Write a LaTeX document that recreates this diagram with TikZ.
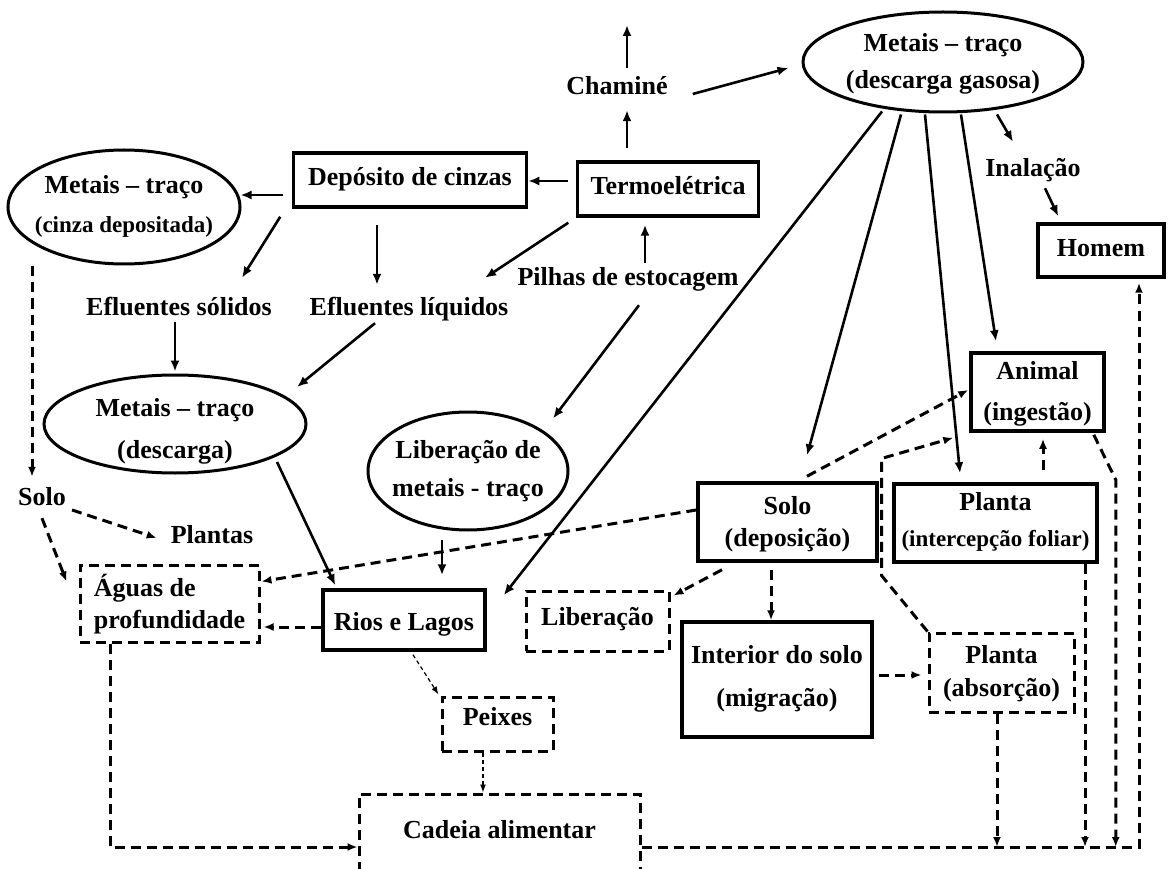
\documentclass[tikz,border=0pt]{standalone}
\usepackage{fontspec}
\setmainfont{Liberation Serif}
\usetikzlibrary{arrows.meta,shapes.geometric}
\newcommand{\cb}[2]{\raisebox{#1}[0pt][0pt]{\makebox[0pt]{#2}}}
\newcommand{\tw}[3]{\fontsize{26}{#1}\selectfont\begin{tabular}{@{}c@{}}#2\\#3\end{tabular}}
\newcommand{\sm}[1]{{\fontsize{23}{26}\selectfont #1}}
\begin{document}
\begin{tikzpicture}[x=1pt,y=-1pt,
  font=\bfseries\fontsize{26}{30}\selectfont,
  box/.style={draw,line width=3.5pt,inner sep=0pt,rectangle},
  dbox/.style={draw,line width=3pt,inner sep=0pt,rectangle,dash pattern=on 10pt off 6pt},
  ell/.style={draw,line width=3pt,ellipse,inner sep=0pt},
  lbl/.style={inner sep=0pt,text height=17pt,text depth=0pt},
  arr/.style={line width=2.6pt,-{Latex[length=11pt,width=9pt]}},
  darr/.style={line width=3pt,dash pattern=on 10pt off 6pt,-{Latex[length=10pt,width=8pt]}},
  tarr/.style={line width=1.2pt,dash pattern=on 4pt off 3pt,-{Latex[length=8pt,width=6pt]}}]
\useasboundingbox (0,0) rectangle (1168,869);
\clip (0,0) rectangle (1168,869);

% ellipses
\node[ell,minimum width=280pt,minimum height=100pt] (gas) at (943,62) {\cb{-6.6pt}{\tw{37pt}{Metais – traço}{(descarga gasosa)}}};
\node[ell,minimum width=232pt,minimum height=114pt] (cinza) at (124,207) {\cb{-4pt}{\tw{39pt}{Metais – traço}{\sm{(cinza depositada)}}}};
\node[ell,minimum width=262pt,minimum height=98pt] (desc) at (175,424) {\cb{-11pt}{\tw{42pt}{Metais – traço}{(descarga)}}};
\node[ell,minimum width=200pt,minimum height=118pt] (lib) at (468,471) {\cb{-5pt}{\tw{38pt}{Liberação de}{metais - traço}}};

% solid boxes
\node[box,minimum width=181pt,minimum height=54pt] (termo) at (668,189) {\cb{-5.5pt}{Termoelétrica}};
\node[box,minimum width=233pt,minimum height=54pt] (dep) at (410,180) {\cb{-5.5pt}{Depósito de cinzas}};
\node[box,minimum width=126pt,minimum height=53pt] (homem) at (1101,250.5) {\cb{-6pt}{Homem}};
\node[box,minimum width=133pt,minimum height=78pt] (animal) at (1037.5,392) {\cb{-6.3pt}{\tw{41pt}{Animal}{(ingestão)}}};
\node[box,minimum width=179pt,minimum height=78pt] (solo2) at (787.5,522) {\cb{-8.6pt}{\tw{32pt}{Solo}{(deposição)}}};
\node[box,minimum width=203pt,minimum height=78pt] (plantai) at (995.5,523) {\cb{-4.3pt}{\tw{36pt}{Planta}{\sm{(intercepção foliar)}}}};
\node[box,minimum width=190pt,minimum height=115pt] (interior) at (777,679.5) {\cb{-2.9pt}{\tw{43pt}{Interior do solo}{(migração)}}};
\node[box,minimum width=162pt,minimum height=60pt] (rios) at (404,620) {\cb{-10.5pt}{Rios e Lagos}};

% dashed boxes
\node[dbox,minimum width=143pt,minimum height=60pt] (liber) at (597.5,621) {\cb{-4.5pt}{Liberação}};
\node[dbox,minimum width=179pt,minimum height=77pt] (aguas) at (169.5,603.5) {\cb{-8.6pt}{\fontsize{26}{32}\selectfont\begin{tabular}{@{}l@{}}Águas de\\profundidade\end{tabular}}};
\node[dbox,minimum width=111pt,minimum height=54pt] (peixes) at (497.5,724) {\cb{-1.5pt}{Peixes}};
\node[dbox,minimum width=145pt,minimum height=79pt] (plantaa) at (1001.5,672.5) {\cb{-6.9pt}{\tw{33pt}{Planta}{(absorção)}}};
\node[dbox,minimum width=281pt,minimum height=106pt] (cadeia) at (499.5,847) {\cb{9pt}{Cadeia alimentar}};

% plain labels
\node[lbl] (chamine) at (617,86) {Chaminé};
\node[lbl] (inal) at (1033,168) {Inalação};
\node[lbl] (efs) at (179,307) {Efluentes sólidos};
\node[lbl] (efl) at (409,307) {Efluentes líquidos};
\node[lbl] (pilhas) at (628,277) {Pilhas de estocagem};
\node[lbl] (solo1) at (42,497) {Solo};
\node[lbl] (plantas) at (212,535) {Plantas};
\coordinate (chtop) at (627,25);

% solid connectors
\draw[arr] ([xshift=-41pt,yshift=12pt]termo.north) -- ([xshift=10pt,yshift=-15.5pt]chamine.south);
\draw[arr] ([xshift=10pt,yshift=9.5pt]chamine.north) -- (chtop);
\draw[arr] ([xshift=25pt,yshift=-8pt]chamine.east) -- ([xshift=-13pt,yshift=-6pt]gas.west);
\draw[arr] ([xshift=-7.5pt,yshift=8pt]termo.west) -- ([yshift=-1pt]dep.east);
\draw[arr] ([xshift=-8.5pt,yshift=-15pt]dep.west) -- ([xshift=-1pt,yshift=12pt]cinza.east);
\draw[arr] ([xshift=-11.5pt,yshift=-8pt]dep.south west) -- ([xshift=63pt,yshift=20.5pt]efs.north);
\draw[arr] ([xshift=-33pt,yshift=-16pt]dep.south) -- ([xshift=-32pt,yshift=13.5pt]efl.north);
\draw[arr] ([xshift=-7.5pt,yshift=-5pt]termo.south west) -- ([xshift=76pt,yshift=20.5pt]efl.north);
\draw[arr] ([xshift=17pt,yshift=5.5pt]pilhas.north) -- ([xshift=-23pt,yshift=-7pt]termo.south);
\draw[arr] ([xshift=11pt,yshift=-19.5pt]pilhas.south) -- ([xshift=85pt,yshift=-8pt]lib.north);
\draw[arr] ([xshift=-61pt,yshift=2pt]gas.south) -- ([xshift=17pt,yshift=-7pt]rios.north east);
\draw[arr] ([xshift=-42pt,yshift=-1pt]gas.south) -- ([xshift=19.5pt,yshift=26pt]solo2.north);
\draw[arr] ([xshift=-18pt,yshift=-1pt]gas.south) -- ([xshift=-35.5pt,yshift=9pt]plantai.north);
\draw[arr] ([xshift=18pt,yshift=-1pt]gas.south) -- ([xshift=-41.5pt,yshift=10pt]animal.north);
\draw[arr] ([xshift=54pt,yshift=-1pt]gas.south) -- ([xshift=-20pt,yshift=17.5pt]inal.north);
\draw[arr] ([xshift=12pt,yshift=-11.5pt]inal.south) -- ([xshift=22pt,yshift=6pt]homem.north west);
\draw[arr] ([xshift=-4pt,yshift=-6.5pt]efs.south) -- ([yshift=2pt]desc.north);
\draw[arr] ([xshift=-34pt,yshift=-7.5pt]efl.south) -- ([xshift=122pt,yshift=37pt]desc.center);
\draw[arr] ([xshift=102pt,yshift=-38pt]desc.center) -- ([xshift=14pt,yshift=3pt]rios.north west);
\draw[arr] ([xshift=-26pt,yshift=-8pt]lib.south) -- ([xshift=38pt,yshift=13pt]rios.north);

% dashed connectors
\draw[darr] ([xshift=-92pt,yshift=-1pt]cinza.south) -- ([xshift=-10pt,yshift=11.5pt]solo1.north);
\draw[darr] ([xshift=6pt,yshift=-13pt]solo1.east) -- ([xshift=-14pt,yshift=-3pt]plantas.west);
\draw[darr] ([yshift=-12.5pt]solo1.south) -- ([xshift=-12pt,yshift=-18pt]aguas.north west);
\draw[darr] ([yshift=12pt]solo2.west) -- ([xshift=1pt,yshift=-18pt]aguas.north east);
\draw[darr] ([xshift=19.5pt,yshift=5pt]solo2.north) -- ([xshift=-1pt,yshift=2pt]animal.west);
\draw[darr] ([xshift=-65.5pt,yshift=-7pt]solo2.south) -- ([xshift=3pt,yshift=-6pt]liber.north east);
\draw[darr] ([xshift=-16.5pt,yshift=-7pt]solo2.south) -- ([xshift=-6pt]interior.north);
\draw[darr] ([yshift=-7pt]rios.west) -- ([xshift=3pt,yshift=-23.5pt]aguas.east);
\draw[darr] ([xshift=5pt,yshift=4.5pt]interior.east) -- ([xshift=-6pt,yshift=-2.5pt]plantaa.west);
\draw[darr] (plantaa.north west) -- ++(-46,-56) -- ++(0,-117) -- ([xshift=-16pt,yshift=-5pt]animal.south west);
\draw[darr] ([xshift=47.5pt,yshift=12pt]plantai.north) -- ([xshift=5.5pt,yshift=-6pt]animal.south);
\draw[darr] ([xshift=-12pt,yshift=-2pt]animal.south east) -- ++(22,45) coordinate (ak) -- (ak |- cadeia.east);
\draw[darr] ([xshift=89.5pt]plantai.south) -- ([xshift=89.5pt]plantai.south |- cadeia.east);
\draw[darr] ([xshift=-4.5pt]plantaa.south) -- ([xshift=-4.5pt]plantaa.south |- cadeia.east);
\draw[darr] (cadeia.east) -| ([xshift=38pt,yshift=-4pt]homem.south);
\draw[darr] ([xshift=-59.5pt]aguas.south) |- (cadeia.west);
\draw[tarr] ([xshift=9pt,yshift=-3pt]rios.south) -- ([xshift=-2pt,yshift=1pt]peixes.north west);
\draw[tarr] ([xshift=-14.5pt]peixes.south) -- ([xshift=-14.5pt]peixes.south |- cadeia.north);
\end{tikzpicture}
\end{document}
